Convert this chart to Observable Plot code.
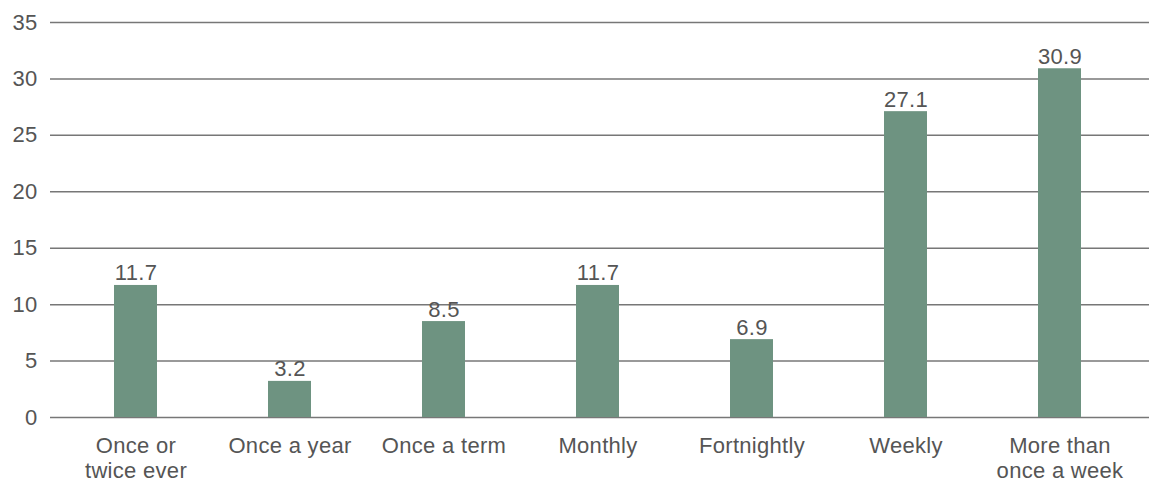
<!DOCTYPE html>
<html>
<head>
<meta charset="utf-8">
<script src="https://cdn.jsdelivr.net/npm/d3@7"></script>
<script src="https://cdn.jsdelivr.net/npm/@observablehq/plot@0.6"></script>
<style>
  html, body { margin: 0; padding: 0; background: #fff; }
  #chart svg { display: block; }
  #chart svg text { letter-spacing: 0.3px; }
</style>
</head>
<body>
<div id="chart"></div>
<script>
const categories = ["Once or\ntwice ever", "Once a year", "Once a term", "Monthly", "Fortnightly", "Weekly", "More than\nonce a week"];
const values = [11.7, 3.2, 8.5, 11.7, 6.9, 27.1, 30.9];
const yTicks = [0, 5, 10, 15, 20, 25, 30, 35];

const data = categories.map((c, i) => ({category: c, value: values[i]}));

const chart = Plot.plot({
  width: 1149,
  height: 483,
  marginLeft: 50,
  marginRight: 0,
  marginTop: 22,
  marginBottom: 66,
  style: {fontFamily: "'Liberation Sans', Arial, sans-serif", fontSize: "22px", color: "#555", background: "#fff"},
  x: {domain: categories, range: [56, 1139], paddingInner: 0.72, paddingOuter: 0.36, label: null},
  y: {domain: [0, 35], ticks: yTicks, label: null},
  marks: [
    Plot.ruleY(yTicks, {stroke: "#777", strokeWidth: 1.5}),
    Plot.barY(data, {x: "category", y: "value", fill: "#6e9381"}),
    Plot.text(data, {x: "category", y: "value", text: d => d.value.toFixed(1), lineAnchor: "bottom", dy: -5, fill: "#555", fontSize: 22}),
    Plot.axisY({ticks: yTicks, tickSize: 0, tickPadding: 13, fontSize: 22, fill: "#555", label: null}),
    Plot.axisX({tickSize: 0, tickPadding: 18, fontSize: 22, fill: "#555", lineHeight: 1.12, label: null})
  ]
});
document.getElementById("chart").appendChild(chart);
</script>
</body>
</html>
